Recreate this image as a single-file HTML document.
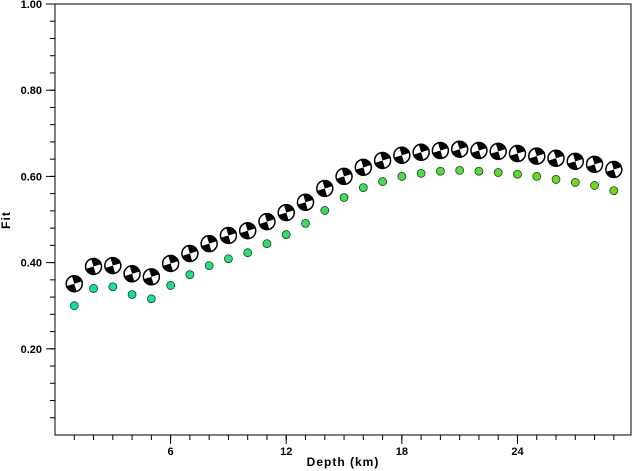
<!DOCTYPE html>
<html><head><meta charset="utf-8"><style>
html,body{margin:0;padding:0;background:#fff;}
svg{display:block;font-family:"Liberation Sans",sans-serif;}
</style></head><body>
<svg id="chart" width="632" height="471" viewBox="0 0 632 471" xmlns="http://www.w3.org/2000/svg">
<rect x="55" y="4" width="576" height="431" fill="none" stroke="#000" stroke-width="1"/>
<g id="axes"></g>
<g id="series"></g>
<text x="343" y="466" text-anchor="middle" font-size="12" font-weight="bold" letter-spacing="1">Depth (km)</text>
<text x="10" y="220" text-anchor="middle" font-size="12" font-weight="bold" letter-spacing="1" transform="rotate(-90 10 220)">Fit</text>
</svg>
<script>
const depths=[1,2,3,4,5,6,7,8,9,10,11,12,13,14,15,16,17,18,19,20,21,22,23,24,25,26,27,28,29];
const mechFit=[0.351,0.391,0.393,0.374,0.367,0.398,0.421,0.444,0.463,0.474,0.495,0.516,0.540,0.572,0.600,0.621,0.637,0.649,0.656,0.660,0.663,0.660,0.658,0.653,0.647,0.642,0.635,0.628,0.616];
const dotFit=[0.300,0.340,0.344,0.326,0.316,0.347,0.372,0.393,0.409,0.423,0.444,0.465,0.491,0.521,0.551,0.574,0.588,0.600,0.607,0.612,0.614,0.612,0.609,0.605,0.600,0.593,0.586,0.579,0.567];
const xTicks=[6,12,18,24];
const yTicks=[0.20,0.40,0.60,0.80,1.00];
const NS="http://www.w3.org/2000/svg";
function xs(d){return 55+d*19.27;}
function ys(v){return 435-v*431;}
const axes=document.getElementById('axes');
const series=document.getElementById('series');
function mk(tag,attrs,parent){const e=document.createElementNS(NS,tag);for(const k in attrs)e.setAttribute(k,attrs[k]);parent.appendChild(e);return e;}
for(let v=0.04;v<1.0;v+=0.04){
  const l=mk('line',{x1:55,x2:50,y1:ys(v),y2:ys(v),stroke:'#000'},axes);
  
  
}
for(let d=1;d<30;d++){
  const l=mk('line',{x1:xs(d),x2:xs(d),y1:435,y2:440,stroke:'#000'},axes);
  
  
}
yTicks.forEach(v=>{
  const l=mk('line',{x1:55,x2:46,y1:ys(v),y2:ys(v),stroke:'#000'},axes);
  
  
  const t=mk('text',{x:42,y:ys(v)+4,'text-anchor':'end','font-size':11,'font-weight':'bold'},axes);
  t.textContent=v.toFixed(2);
  
  
});
xTicks.forEach(d=>{
  const l=mk('line',{x1:xs(d),x2:xs(d),y1:435,y2:444,stroke:'#000'},axes);
  
  
  const t=mk('text',{x:xs(d),y:455,'text-anchor':'middle','font-size':11,'font-weight':'bold'},axes);
  t.textContent=String(d);
  
  
});
depths.forEach((d,i)=>{
  const f=i/(depths.length-1);
  const r=Math.round(0+f*110), g=Math.round(230-f*10), b=Math.round(160-f*150);
  const c=mk('circle',{cx:xs(d),cy:ys(dotFit[i]),r:4,fill:`rgb(${r},${g},${b})`,stroke:'#333','stroke-width':0.8},series);
  
  
});
depths.forEach((d,i)=>{
  const cx=xs(d), cy=ys(mechFit[i]), R=8;
  const g=mk('g',{},series);
  
  
  mk('circle',{cx:cx,cy:cy,r:R,fill:'#000'},g);
  const a1=-0.3, a2=a1+Math.PI/2, a3=a1+Math.PI, a4=a1+1.5*Math.PI;
  const p=(a)=>`${cx+R*Math.cos(a)},${cy+R*Math.sin(a)}`;
  mk('path',{d:`M${cx},${cy} L${p(a1)} A${R},${R} 0 0 1 ${p(a2)} Z`,fill:'#fff'},g);
  mk('path',{d:`M${cx},${cy} L${p(a3)} A${R},${R} 0 0 1 ${p(a4)} Z`,fill:'#fff'},g);
  mk('circle',{cx:cx,cy:cy,r:R,fill:'none',stroke:'#000','stroke-width':1.5},g);
});
</script>
</body></html>
